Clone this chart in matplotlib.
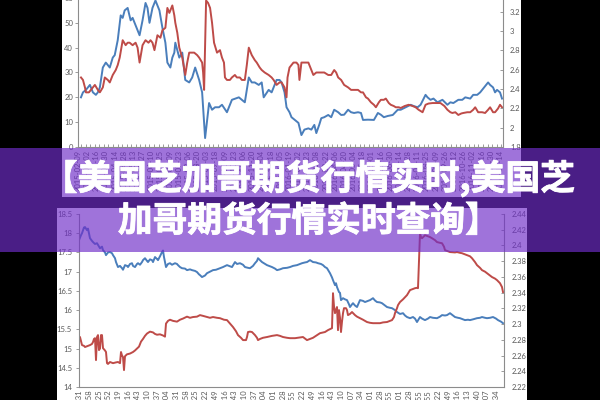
import numpy as np
import matplotlib
matplotlib.use('Agg')
import matplotlib.pyplot as plt
import matplotlib.patheffects as pe
from matplotlib.patches import Rectangle

# ---------------- data ----------------
# top chart (two series, left axis 0-60, right axis 1.8-3.3)
top_blue_x = [0, 2, 5, 7, 9, 12, 15, 17, 19, 22,
              25, 27, 29, 32, 34, 37, 40, 42, 44, 47,
              50, 52, 55, 59, 62, 65, 67, 69, 72, 75,
              77, 79, 82, 85, 87, 90, 92, 94, 95, 99,
              102, 105, 109, 112, 115, 119, 122, 125, 129, 132,
              135, 139, 142, 147, 152, 159, 165, 169, 172, 175,
              179, 182, 184, 189, 192, 197, 200, 202, 205, 207,
              210, 212, 215, 219, 222, 225, 229, 232, 235, 237,
              240, 242, 245, 249, 252, 255, 259, 262, 265, 269,
              272, 275, 279, 282, 284, 289, 295, 299, 302, 305,
              309, 314, 319, 322, 327, 332, 335, 339, 342, 347,
              349, 352, 355, 359, 364, 369, 372, 375, 380, 384,
              387, 392, 395, 399, 402, 406, 410, 412, 415, 417,
              419, 422, 424]
top_blue_y = [20, 22, 23, 24, 25, 22, 21, 22, 24, 32,
              34, 33, 32, 36, 37, 43, 53, 52, 55, 56,
              51, 52, 49, 45, 51, 58, 56, 50, 56, 59,
              57, 55, 48, 42, 34, 32, 36, 38, 42, 36,
              38, 27, 26, 28, 32, 27, 22, 3.6, 17.7, 15,
              16, 16, 17, 14, 19, 20, 18, 28, 26, 26,
              25, 26, 20, 23, 22, 27, 27, 26, 22, 16,
              14, 12, 11, 9.7, 4.8, 7, 7.5, 7, 8.9, 5.6,
              9, 11.6, 12, 12.9, 12, 15, 14, 12.9, 13, 15,
              14, 13.7, 14, 13.7, 10.9, 11, 10.9, 13.7, 13, 12,
              12.5, 12.9, 15, 15, 16, 17, 16.5, 16, 17, 21,
              20, 19, 19.5, 18, 19, 17, 18, 17.7, 19, 19,
              20, 19.5, 21, 21, 22, 24, 26, 25, 24, 22,
              23, 22, 19.5]
top_red_x = [0, 2, 4, 5, 8, 10, 12, 14, 17, 19,
             22, 24, 27, 29, 32, 35, 37, 39, 42, 45,
             47, 49, 52, 55, 57, 59, 62, 65, 68, 70,
             72, 74, 77, 80, 82, 85, 87, 89, 90, 92,
             94, 95, 97, 99, 102, 105, 107, 109, 112, 114,
             117, 119, 122, 123, 124, 126, 128, 130, 132, 134,
             137, 140, 142, 144, 145, 147, 150, 152, 155, 157,
             160, 162, 165, 167, 169, 172, 175, 177, 180, 182,
             185, 189, 192, 194, 197, 200, 202, 205, 207, 208,
             210, 212, 214, 217, 219, 220, 222, 225, 229, 232,
             234, 237, 239, 242, 245, 249, 252, 255, 257, 259,
             262, 265, 269, 272, 275, 279, 282, 284, 287, 289,
             292, 295, 297, 300, 302, 305, 307, 310, 312, 315,
             317, 320, 322, 326, 330, 334, 337, 340, 344, 347,
             350, 354, 358, 362, 366, 369, 372, 374, 377, 380,
             383, 385, 389, 392, 395, 397, 400, 404, 407, 410,
             412, 415, 417, 420, 422, 424]
top_red_y = [28, 27, 24, 22, 22, 23, 24, 25, 23, 22,
             24, 28, 27, 26, 29, 31, 33, 36, 43, 41,
             42, 42, 41, 42, 40, 34, 41, 43, 42, 43,
             42, 39, 45, 44, 47, 48, 56, 54, 55, 57,
             53, 50, 46, 40, 36, 29, 34, 38, 38, 38,
             37, 36, 34, 30, 23, 59, 58, 56, 50, 42,
             38, 39, 36, 34, 28, 27, 27, 28, 29, 28,
             28, 27, 27, 33, 40, 37, 35, 34, 32, 31,
             30, 29, 28, 27, 25, 26, 26, 24, 20, 28,
             32, 33, 34, 34, 33, 27, 34, 34, 34, 31,
             29, 30, 30, 30, 30, 29, 29, 31, 30, 28,
             27, 25, 24, 23, 23, 23, 22, 22, 20, 19.5,
             18, 17, 16, 18, 19, 19, 19.5, 17.7, 17, 16.5,
             16, 16, 15.7, 16.5, 17, 16.5, 16, 15, 14, 17,
             17.5, 17.7, 17.7, 17.7, 16.5, 15, 14, 13.7, 14, 12.9,
             13.5, 13.7, 14, 14, 15, 16, 14, 14, 13.7, 15,
             16, 14, 14, 15.5, 17, 16]
top_dates = ["2015-02-09", "2015-03-02", "2015-03-16", "2015-03-30", "2015-04-14",
             "2015-04-28", "2015-05-13", "2015-05-27", "2015-06-10", "2015-06-25",
             "2015-07-09", "2015-07-23", "2015-08-06", "2015-08-20", "2015-09-03",
             "2015-09-18", "2015-10-09", "2015-10-23", "2015-11-06", "2015-11-20",
             "2015-12-04", "2015-12-18", "2016-01-05", "2016-01-19", "2016-02-02",
             "2016-02-23", "2016-03-08", "2016-03-22", "2016-04-06", "2016-04-20",
             "2016-05-04", "2016-05-18", "2016-06-01", "2016-06-16", "2016-06-30",
             "2016-07-14", "2016-07-28", "2016-08-11", "2016-08-25", "2016-09-09",
             "2016-09-26", "2016-10-12", "2016-10-26", "2016-11-02", "2016-11-16",
             "2016-11-30", "2016-12-14"]

# bottom chart (left axis 14-18.5, right axis 2.22-2.44)
bot_blue_x = [0, 2, 3, 5, 6, 8, 9, 11, 13, 14,
              16, 18, 20, 21, 23, 24, 26, 27, 29, 31,
              33, 34, 36, 37, 39, 41, 43, 44, 46, 48,
              49, 51, 53, 54, 56, 58, 59, 61, 63, 64,
              66, 68, 69, 71, 73, 74, 76, 78, 79, 81,
              83, 84, 85, 87, 89, 91, 93, 96, 98, 99,
              101, 103, 106, 108, 111, 113, 116, 118, 120, 121,
              123, 126, 128, 131, 134, 137, 141, 144, 148, 151,
              153, 156, 158, 161, 164, 166, 169, 171, 174, 176,
              178, 179, 181, 183, 186, 188, 191, 193, 196, 198,
              201, 204, 208, 211, 214, 218, 221, 223, 226, 228,
              231, 234, 237, 239, 242, 244, 246, 248, 250, 251,
              253, 254, 256, 257, 258, 260, 261, 262, 264, 266,
              268, 270, 271, 273, 274, 276, 278, 280, 281, 284,
              286, 289, 291, 294, 296, 298, 301, 303, 306, 308,
              311, 313, 316, 318, 321, 324, 326, 328, 331, 334,
              336, 338, 341, 343, 346, 349, 351, 354, 358, 361,
              363, 366, 368, 371, 373, 376, 379, 381, 384, 386,
              389, 391, 394, 398, 401, 403, 406, 408, 411, 414,
              417, 419, 422, 424]
bot_blue_y = [17.82, 17.95, 18.0, 18.15, 18.16, 18.08, 18.12, 17.87, 17.8, 17.77,
              17.72, 17.74, 17.65, 17.61, 17.65, 17.56, 17.5, 17.43, 17.5, 17.51,
              17.48, 17.43, 17.35, 17.25, 17.12, 17.15, 17.09, 17.05, 17.17, 17.15,
              17.12, 17.2, 17.22, 17.15, 17.12, 17.2, 17.22, 17.18, 17.25, 17.3,
              17.35, 17.28, 17.25, 17.32, 17.30, 17.25, 17.38, 17.33, 17.30, 17.4,
              17.51, 17.55, 17.38, 17.12, 17.2, 17.22, 17.18, 17.22, 17.2, 17.17,
              17.12, 17.09, 17.08, 17.04, 17.06, 17.04, 17.02, 16.99, 16.93, 16.91,
              16.86, 16.9, 16.96, 17.0, 17.04, 17.05, 17.09, 17.12, 17.17, 17.14,
              17.12, 17.25, 17.2, 17.22, 17.18, 17.12, 17.1, 17.09, 17.15, 17.22,
              17.28, 17.35, 17.3, 17.25, 17.2, 17.17, 17.14, 17.12, 17.08, 17.04,
              17.06, 17.09, 17.1, 17.12, 17.15, 17.17, 17.2, 17.22, 17.24, 17.25,
              17.30, 17.25, 17.24, 17.22, 17.2, 17.17, 17.12, 17.09, 17.0, 16.96,
              16.85, 16.78, 16.65, 16.7, 16.6, 16.47, 16.45, 16.26, 16.31, 16.28,
              16.26, 16.15, 16.08, 16.15, 16.18, 16.12, 16.08, 16.2, 16.26, 16.24,
              16.21, 16.24, 16.26, 16.31, 16.25, 16.21, 16.2, 16.18, 16.12, 16.08,
              16.06, 16.05, 16.0, 15.95, 15.90, 15.92, 15.86, 15.82, 15.79, 15.82,
              15.78, 15.69, 15.82, 15.78, 15.74, 15.78, 15.82, 15.8, 15.79, 15.83,
              15.87, 15.86, 15.87, 15.92, 15.88, 15.82, 15.8, 15.79, 15.76, 15.74,
              15.75, 15.74, 15.76, 15.79, 15.8, 15.82, 15.8, 15.79, 15.8, 15.82,
              15.78, 15.74, 15.7, 15.66]
bot_red_x = [0, 1, 3, 5, 6, 8, 11, 13, 14, 15,
             16, 17, 18, 19, 20, 21, 22, 23, 24, 26,
             27, 28, 29, 31, 34, 37, 39, 41, 42, 43,
             44, 45, 46, 48, 51, 54, 56, 58, 60, 62,
             64, 66, 68, 71, 74, 76, 78, 81, 84, 86,
             87, 89, 91, 94, 98, 101, 104, 108, 111, 114,
             118, 121, 124, 128, 131, 134, 138, 141, 145, 148,
             151, 154, 157, 159, 162, 164, 167, 168, 169, 171,
             173, 176, 178, 179, 181, 184, 188, 193, 198, 201,
             204, 208, 211, 216, 221, 224, 226, 228, 231, 234,
             237, 241, 246, 249, 253, 254, 255, 256, 257, 258,
             259, 260, 261, 262, 263, 264, 265, 267, 268, 269,
             271, 273, 276, 278, 281, 284, 288, 291, 294, 298,
             301, 304, 308, 311, 313, 315, 316, 318, 319, 321,
             324, 328, 331, 334, 336, 338, 339, 340, 341, 342,
             343, 345, 346, 349, 351, 353, 356, 358, 361, 363,
             365, 366, 369, 371, 376, 378, 381, 383, 386, 388,
             391, 393, 396, 398, 401, 403, 406, 408, 411, 413,
             416, 418, 421, 423, 424]
bot_red_y = [15.27, 15.3, 15.09, 15.07, 15.04, 15.06, 15.09, 15.12, 15.17, 15.25,
             15.27, 14.7, 15.3, 15.35, 14.96, 15.0, 15.35, 15.35, 15.01, 14.95,
             14.91, 14.62, 14.6, 14.65, 14.62, 14.64, 14.65, 14.62, 14.91, 14.82,
             14.78, 14.44, 14.8, 14.85, 14.87, 14.91, 14.95, 15.0, 15.05, 15.18,
             15.25, 15.33, 15.39, 15.44, 15.42, 15.38, 15.36, 15.37, 15.34, 15.31,
             15.65, 15.72, 15.75, 15.72, 15.7, 15.75, 15.78, 15.83, 15.8, 15.82,
             15.83, 15.87, 15.85, 15.82, 15.8, 15.82, 15.8, 15.79, 15.75, 15.74,
             15.65, 15.56, 15.45, 15.35, 15.28, 15.22, 15.22, 15.3, 15.43, 15.44,
             15.43, 15.35, 15.28, 15.22, 15.25, 15.28, 15.30, 15.33, 15.35, 15.33,
             15.3, 15.28, 15.27, 15.27, 15.29, 15.3, 15.26, 15.22, 15.25, 15.28,
             15.33, 15.40, 15.43, 15.48, 15.53, 16.44, 16.1, 15.92, 16.0, 16.08,
             15.48, 16.0, 15.8, 15.43, 15.7, 15.92, 16.05, 16.05, 16.0, 15.87,
             15.9, 15.95, 15.87, 15.83, 15.79, 15.75, 15.69, 15.67, 15.66, 15.66,
             15.66, 15.68, 15.69, 15.72, 15.74, 15.82, 15.92, 16.05, 16.13, 16.21,
             16.28, 16.39, 16.52, 16.55, 16.57, 16.58, 16.57, 17.3, 18.0, 17.9,
             17.87, 17.92, 17.95, 17.92, 17.9, 17.87, 17.82, 17.77, 17.75, 17.74,
             17.65, 17.56, 17.53, 17.51, 17.5, 17.51, 17.49, 17.48, 17.45, 17.43,
             17.4, 17.35, 17.25, 17.17, 17.1, 17.04, 17.0, 16.96, 16.9, 16.86,
             16.82, 16.78, 16.7, 16.6, 16.47]
bot_labels = ["31", "58", "25", "52", "19", "16", "43", "10", "37", "04",
              "31", "58", "25", "22", "49", "16", "43", "10", "37", "04",
              "01", "28", "55", "22", "49", "16", "43", "10", "07", "34",
              "01", "28", "55", "01", "28", "55", "55", "22", "49", "16",
              "13", "40", "07", "34"]

banner_lines = ["【美国芝加哥期货行情实时,美国芝", "加哥期货行情实时查询】"]

# ---------------- style ----------------
BLUE = '#4a7ebb'
RED = '#be4b48'
AXC = '#8c8c8c'
TXC = '#595959'
TICKFONT = 'Lato'
W, H = 600.0, 400.0

fig = plt.figure(figsize=(6, 4), dpi=100, facecolor='black')

def fy(py):
    return 1 - py / H

# white chart panels
fig.add_artist(Rectangle((62 / W, fy(197)), 459 / W, 197 / H, transform=fig.transFigure,
                         facecolor='white', edgecolor='none', zorder=-5))
fig.add_artist(Rectangle((57 / W, 0), 470 / W, 192 / H, transform=fig.transFigure,
                         facecolor='white', edgecolor='none', zorder=-5))


def style_pair(ax, axr, lpad, rpad, lout):
    ax.patch.set_visible(False)
    axr.patch.set_visible(False)
    for s in ['top', 'right']:
        ax.spines[s].set_visible(False)
    for s in ['top', 'left', 'bottom']:
        axr.spines[s].set_visible(False)
    for sp in [ax.spines['left'], ax.spines['bottom'], axr.spines['right']]:
        sp.set_color(AXC)
        sp.set_linewidth(0.8)
    ax.tick_params(axis='y', direction='out' if lout else 'in', length=2, width=0.6,
                   color=AXC, labelsize=5.5, labelcolor=TXC, pad=lpad)
    axr.tick_params(axis='y', direction='in', length=2, width=0.6,
                    color=AXC, labelsize=5.5, labelcolor=TXC, pad=rpad)
    for lab in ax.get_yticklabels() + axr.get_yticklabels():
        lab.set_fontfamily(TICKFONT)


# ---- top chart ----
ax1 = fig.add_axes([78 / W, fy(147), 425 / W, 149 / H])
ax1r = ax1.twinx()
ax1.plot(top_blue_x, top_blue_y, color=BLUE, lw=1.4, solid_joinstyle='round')
ax1.plot(top_red_x, top_red_y, color=RED, lw=1.4, solid_joinstyle='round')
ax1.set_xlim(0, 425)
ax1.set_ylim(0, 60)
ax1.set_yticks(np.arange(0, 61, 10))
ax1r.set_ylim(1.8, 3.343)
ax1r.set_yticks([1.8, 2.0, 2.2, 2.4, 2.6, 2.8, 3.0, 3.2])
ax1r.set_yticklabels(['1.8', '2', '2.2', '2.4', '2.6', '2.8', '3', '3.2'])
style_pair(ax1, ax1r, 1.5, 5, True)
top_pos = np.linspace(-3, 422, len(top_dates))
ax1.set_xticks(top_pos)
ax1.set_xticklabels(top_dates, rotation=90, fontsize=5.5, color=TXC, fontfamily=TICKFONT)
ax1.set_xticks(np.arange(0, 426, 4.6), minor=True)
ax1.tick_params(axis='x', which='major', length=0, pad=2)
ax1.tick_params(axis='x', which='minor', direction='in', length=2.2, width=0.6, color=AXC)

# ---- bottom chart ----
ax2 = fig.add_axes([79 / W, fy(387), 425 / W, 173 / H])
ax2r = ax2.twinx()
ax2.plot(bot_blue_x, bot_blue_y, color=BLUE, lw=1.4, solid_joinstyle='round')
ax2.plot(bot_red_x, bot_red_y, color=RED, lw=1.4, solid_joinstyle='round')
ax2.set_xlim(0, 425)
ax2.set_ylim(14, 18.5)
ax2.set_yticks(np.arange(14, 18.51, 0.5))
ax2.set_yticklabels(['14', '14.5', '15', '15.5', '16', '16.5', '17', '17.5', '18', '18.5'])
ax2r.set_ylim(2.22, 2.44)
ax2r.set_yticks(np.arange(2.22, 2.441, 0.02))
ax2r.set_yticklabels(['2.22', '2.24', '2.26', '2.28', '2.3', '2.32', '2.34', '2.36', '2.38', '2.4', '2.42', '2.44'])
style_pair(ax2, ax2r, 3, 5.5, True)
bot_pos = np.linspace(0, 417, len(bot_labels))
ax2.set_xticks(bot_pos)
ax2.set_xticklabels(['10:' + s for s in bot_labels], rotation=90, fontsize=5.5,
                    color=TXC, fontfamily=TICKFONT)
ax2.set_xticks(bot_pos[1::2], minor=True)
ax2.tick_params(axis='x', which='major', length=0, pad=2)
ax2.tick_params(axis='x', which='minor', direction='in', length=2.5, width=0.6, color=AXC)

# ---- purple banner ----
fig.add_artist(Rectangle((0, fy(252)), 1, 104 / H, transform=fig.transFigure,
                         facecolor=(0.44, 0.18, 0.79), alpha=0.67, edgecolor='none', zorder=10))
heavy = [pe.withStroke(linewidth=0.6, foreground='white')]
fig.text(309 / W, fy(178.5), banner_lines[0], ha='center', va='center', fontsize=25,
         color='white', fontfamily=['Noto Sans CJK SC', 'DejaVu Sans'], fontweight='heavy',
         zorder=11, path_effects=heavy)
fig.text(309 / W, fy(221), banner_lines[1], ha='center', va='center', fontsize=25,
         color='white', fontfamily=['Noto Sans CJK SC', 'DejaVu Sans'], fontweight='heavy',
         zorder=11, path_effects=heavy)

fig.savefig('out.png', dpi=100, facecolor='black')
